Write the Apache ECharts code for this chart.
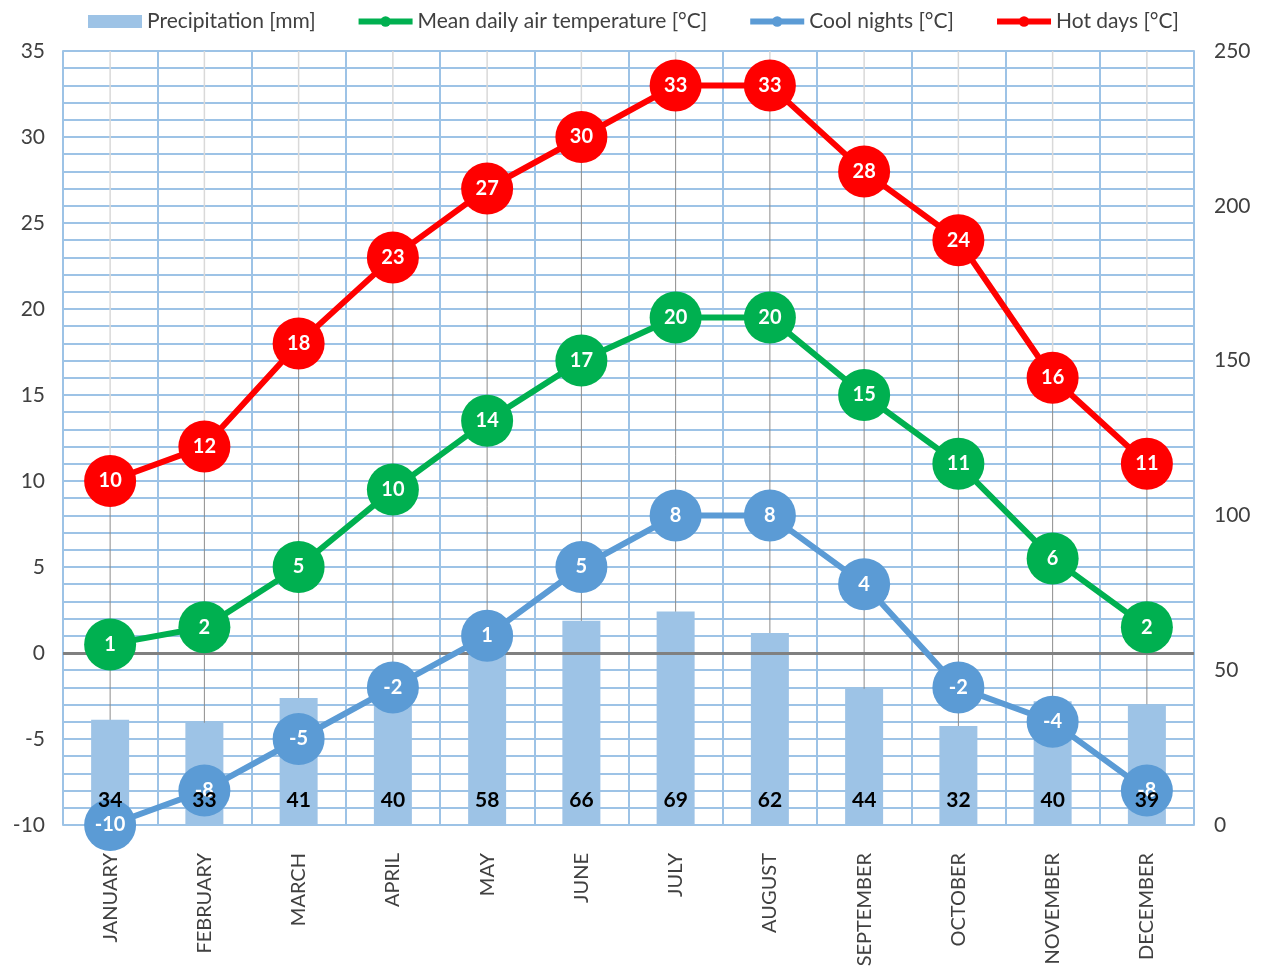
<!DOCTYPE html>
<html>
<head>
<meta charset="utf-8">
<script src="https://cdn.jsdelivr.net/npm/echarts@6/dist/echarts.min.js"></script>
<style>
  html, body { margin: 0; padding: 0; background: #fff; }
  #chart { width: 1267px; height: 967px; }
</style>
</head>
<body>
<div id="chart"></div>
<script>
var months = ["JANUARY", "FEBRUARY", "MARCH", "APRIL", "MAY", "JUNE", "JULY", "AUGUST", "SEPTEMBER", "OCTOBER", "NOVEMBER", "DECEMBER"];
var precipitation = [34, 33, 41, 40, 58, 66, 69, 62, 44, 32, 40, 39];
var meanTemp = [0.5, 1.5, 5, 9.5, 13.5, 17, 19.5, 19.5, 15, 11, 5.5, 1.5];
var coolNights = [-10, -8, -5, -2, 1, 5, 8, 8, 4, -2, -4, -8];
var hotDays = [10, 12, 18, 23, 27, 30, 33, 33, 28, 24, 16, 11];

var font = "Lato";
var textColor = "#404040";
var gridBlue = "#9DC3E6";
var tempMin = -10, tempMax = 35;

var chart = echarts.init(document.getElementById("chart"));

function lineSeries(name, data, color) {
  return {
    name: name,
    type: "line",
    yAxisIndex: 0,
    data: data,
    symbol: "circle",
    symbolSize: 52,
    clip: false,
    z: 5,
    lineStyle: { color: color, width: 6 },
    itemStyle: { color: color },
    label: {
      show: true,
      position: "inside",
      color: "#fff",
      fontFamily: font,
      fontWeight: "bold",
      fontSize: 20,
      formatter: function (p) { return Math.round(p.value); }
    }
  };
}

var meanSeries = lineSeries("Mean daily air temperature [°C]", meanTemp, "#00B050");
// zero line on the temperature axis
meanSeries.markLine = {
  silent: true,
  symbol: "none",
  label: { show: false },
  lineStyle: { color: "#808080", width: 3, type: "solid" },
  data: [{ yAxis: 0 }]
};

var option = {
  animation: false,
  textStyle: { fontFamily: font },
  legend: {
    top: 6,
    left: "center",
    itemGap: 40,
    itemWidth: 54,
    itemHeight: 13,
    lineStyle: { width: 6 },
    textStyle: { fontFamily: font, fontSize: 21, color: textColor },
    data: [
      { name: "Precipitation [mm]", icon: "rect" },
      "Mean daily air temperature [°C]",
      "Cool nights [°C]",
      "Hot days [°C]"
    ]
  },
  grid: { left: 63, right: 73, top: 51, bottom: 142, outerBoundsMode: "none" },
  xAxis: {
    type: "category",
    data: months,
    axisLine: { show: true, lineStyle: { color: gridBlue, width: 2 } },
    axisTick: { show: false },
    splitLine: { show: true, lineStyle: { color: gridBlue, width: 2 } },
    axisLabel: {
      rotate: 90,
      margin: 28,
      color: textColor,
      fontFamily: font,
      fontSize: 20,
      interval: 0
    }
  },
  yAxis: [
    {
      type: "value",
      min: tempMin,
      max: tempMax,
      interval: 5,
      axisLine: { show: true, lineStyle: { color: gridBlue, width: 2 } },
      axisTick: { show: false },
      axisLabel: { color: textColor, fontFamily: font, fontSize: 21, margin: 18 },
      splitLine: { show: true, lineStyle: { color: gridBlue, width: 2 } },
      minorTick: { show: false, splitNumber: 5 },
      minorSplitLine: { show: true, lineStyle: { color: gridBlue, width: 2 } }
    },
    {
      type: "value",
      min: 0,
      max: 250,
      interval: 50,
      axisLine: { show: true, lineStyle: { color: gridBlue, width: 2 } },
      axisTick: { show: false },
      axisLabel: { color: textColor, fontFamily: font, fontSize: 21, margin: 20 },
      splitLine: { show: false }
    }
  ],
  series: [
    {
      name: "gridlines",
      type: "custom",
      yAxisIndex: 0,
      silent: true,
      z: 1,
      data: hotDays.map(function (v, i) { return [i, v]; }),
      renderItem: function (params, api) {
        var top = api.coord([api.value(0), tempMax]);
        var hi = api.coord([api.value(0), api.value(1)]);
        var bottom = api.coord([api.value(0), tempMin]);
        return {
          type: "group",
          children: [
            {
              type: "line",
              shape: { x1: top[0], y1: top[1], x2: hi[0], y2: hi[1] },
              style: { stroke: "#D9D9D9", lineWidth: 1.5 }
            },
            {
              type: "line",
              shape: { x1: hi[0], y1: hi[1], x2: bottom[0], y2: bottom[1] },
              style: { stroke: "#8C8C8C", lineWidth: 1 }
            }
          ]
        };
      }
    },
    {
      name: "Precipitation [mm]",
      type: "bar",
      yAxisIndex: 1,
      data: precipitation,
      barWidth: 38,
      z: 3,
      itemStyle: { color: gridBlue }
    },
    meanSeries,
    lineSeries("Cool nights [°C]", coolNights, "#5B9BD5"),
    lineSeries("Hot days [°C]", hotDays, "#FF0000"),
    {
      // transparent copy of the bars, only to keep the value labels on top
      name: "precip labels",
      type: "bar",
      yAxisIndex: 1,
      data: precipitation,
      barWidth: 38,
      barGap: "-100%",
      z: 8,
      silent: true,
      itemStyle: { color: "rgba(0,0,0,0)" },
      label: {
        show: true,
        position: "insideBottom",
        distance: 14,
        color: "#000",
        fontFamily: font,
        fontWeight: "bold",
        fontSize: 21
      }
    }
  ]
};

chart.setOption(option);
</script>
</body>
</html>
